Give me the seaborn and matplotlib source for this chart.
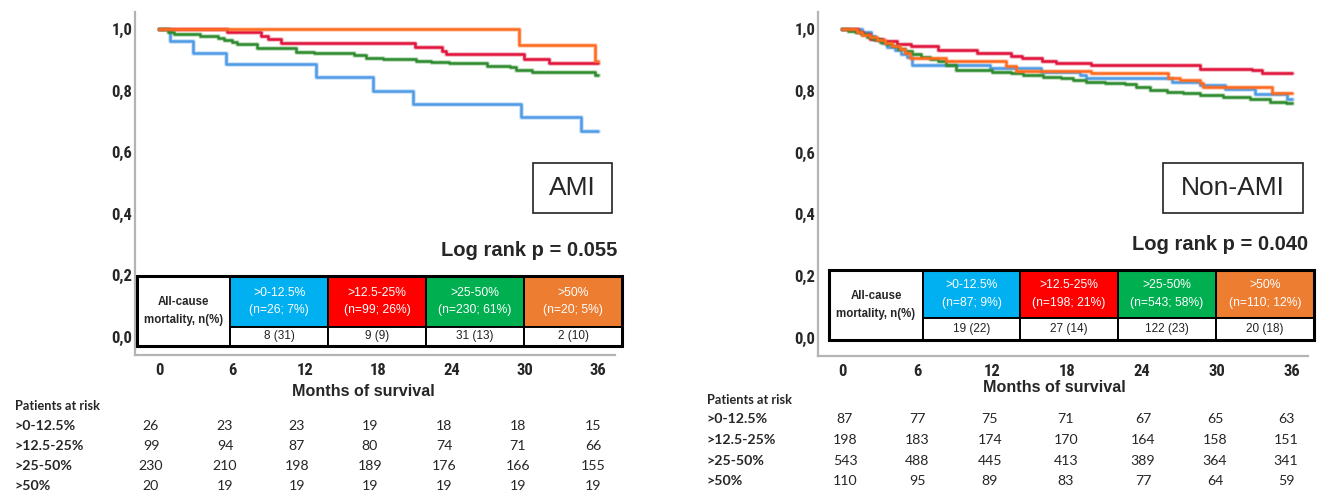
import matplotlib
matplotlib.use("Agg")
import matplotlib.pyplot as plt
import matplotlib.patheffects as pe
import pandas as pd
import seaborn as sns
from matplotlib.patches import Rectangle

W, H = 1321, 497

groups = [">0-12.5%", ">12.5-25%", ">25-50%", ">50%"]
line_colors = ["#4f9be6", "#e0143c", "#2e8b2e", "#ff6a1f"]
cell_colors = ["#00b0f0", "#ff0000", "#00b050", "#ed7d31"]
months = [0, 6, 12, 18, 24, 30, 36]
y_ticks = [0.0, 0.2, 0.4, 0.6, 0.8, 1.0]
y_labels = ["0,0", "0,2", "0,4", "0,6", "0,8", "1,0"]

# AMI survival curves (months, cumulative survival)
ami_t_blue = [0, 0.9, 2.8, 5.5, 12.9, 17.5, 20.8, 29.7, 34.6, 36]
ami_s_blue = [1.0, 0.962, 0.923, 0.885, 0.843, 0.800, 0.757, 0.713, 0.668, 0.668]
ami_t_red = [0, 5.6, 8.4, 8.9, 10.0, 21.0, 23.2, 23.5, 29.9, 32.0, 36]
ami_s_red = [1.0, 0.989, 0.978, 0.967, 0.955, 0.942, 0.930, 0.918, 0.904, 0.890, 0.890]
ami_t_green = [0, 0.7, 1.2, 3.4, 4.8, 5.3, 6.0, 6.4, 8.0, 11.2, 12.7, 16.0, 17.0,
               18.4, 21.1, 22.3, 23.8, 26.9, 28.8, 29.3, 30.6, 35.7, 36]
ami_s_green = [1.0, 0.990, 0.983, 0.978, 0.970, 0.965, 0.959, 0.951, 0.937, 0.926,
               0.921, 0.914, 0.906, 0.903, 0.897, 0.892, 0.888, 0.881, 0.876, 0.868,
               0.862, 0.850, 0.850]
ami_t_orange = [0, 29.5, 35.7, 36]
ami_s_orange = [1.0, 0.947, 0.897, 0.897]

# Non-AMI survival curves
nami_t_blue = [0, 1.6, 2.3, 2.6, 3.2, 3.6, 4.2, 4.7, 5.2, 5.6, 11.8, 15.9, 19.0,
               19.5, 26.4, 28.6, 30.6, 33.0, 35.6, 36]
nami_s_blue = [1.0, 0.989, 0.977, 0.966, 0.954, 0.943, 0.931, 0.920, 0.908, 0.885,
               0.874, 0.862, 0.851, 0.840, 0.829, 0.818, 0.807, 0.790, 0.775, 0.775]
nami_t_red = [0, 1.3, 1.7, 2.2, 3.3, 4.4, 5.5, 7.7, 10.8, 13.5, 14.4, 16.0, 17.1,
              19.9, 28.6, 32.8, 33.6, 36]
nami_s_red = [1.0, 0.992, 0.985, 0.968, 0.960, 0.953, 0.944, 0.933, 0.924, 0.914,
              0.905, 0.897, 0.891, 0.883, 0.872, 0.867, 0.859, 0.859]
nami_t_green = [0, 0.5, 1.0, 1.5, 2.0, 2.5, 3.0, 3.5, 4.0, 4.5, 5.0, 5.6, 6.3, 7.0,
                7.7, 8.3, 9.1, 10.5, 12.0, 13.5, 14.5, 16.1, 17.5, 18.5, 19.5, 21.0,
                22.6, 23.5, 24.6, 26.0, 27.3, 28.6, 30.5, 32.6, 34.2, 35.5, 36]
nami_s_green = [1.0, 0.995, 0.990, 0.983, 0.975, 0.967, 0.958, 0.951, 0.945, 0.937,
                0.928, 0.918, 0.910, 0.903, 0.896, 0.885, 0.869, 0.866, 0.862, 0.857,
                0.852, 0.846, 0.840, 0.835, 0.830, 0.826, 0.821, 0.812, 0.802, 0.797,
                0.792, 0.786, 0.781, 0.775, 0.764, 0.761, 0.761]
nami_t_orange = [0, 1.2, 1.6, 2.2, 2.8, 3.4, 4.0, 4.6, 5.0, 5.4, 8.3, 13.1, 13.9,
                 19.9, 26.1, 27.0, 28.6, 28.9, 34.4, 36]
nami_s_orange = [1.0, 0.991, 0.982, 0.973, 0.964, 0.955, 0.946, 0.936, 0.924, 0.905,
                 0.896, 0.880, 0.865, 0.857, 0.840, 0.834, 0.826, 0.813, 0.794, 0.794]

# mortality table
ami_header = ["(n=26; 7%)", "(n=99; 26%)", "(n=230; 61%)", "(n=20; 5%)"]
ami_events = ["8 (31)", "9 (9)", "31 (13)", "2 (10)"]
nami_header = ["(n=87; 9%)", "(n=198; 21%)", "(n=543; 58%)", "(n=110; 12%)"]
nami_events = ["19 (22)", "27 (14)", "122 (23)", "20 (18)"]

# patients at risk at 0, 6, ... 36 months
ami_risk_blue = [26, 23, 23, 19, 18, 18, 15]
ami_risk_red = [99, 94, 87, 80, 74, 71, 66]
ami_risk_green = [230, 210, 198, 189, 176, 166, 155]
ami_risk_orange = [20, 19, 19, 19, 19, 19, 19]
nami_risk_blue = [87, 77, 75, 71, 67, 65, 63]
nami_risk_red = [198, 183, 174, 170, 164, 158, 151]
nami_risk_green = [543, 488, 445, 413, 389, 364, 341]
nami_risk_orange = [110, 95, 89, 83, 77, 64, 59]

sns.set_style("white")
plt.rcParams["font.family"] = ["Liberation Sans", "DejaVu Sans"]
tick_font = ["Roboto Condensed", "Liberation Sans Narrow", "Liberation Sans"]
risk_font = ["Lato", "DejaVu Sans"]

fig = plt.figure(figsize=(W / 100, H / 100), dpi=100)


def fx(x):
    return x / W


def fy(y):
    return 1 - y / H


def curves_frame(ts, ss):
    parts = []
    for g, t, s in zip(groups, ts, ss):
        parts.append(pd.DataFrame({"month": t, "survival": s, "group": g}))
    return pd.concat(parts, ignore_index=True)


def draw_panel(rect, x0px, pxm, df):
    ax = fig.add_axes([fx(rect[0]), fy(rect[3]), (rect[2] - rect[0]) / W,
                       (rect[3] - rect[1]) / H])
    sns.lineplot(data=df, x="month", y="survival", hue="group",
                 palette=dict(zip(groups, line_colors)), hue_order=groups,
                 drawstyle="steps-post", estimator=None, legend=False,
                 linewidth=1.8, ax=ax)
    for ln in ax.lines:
        ln.set_path_effects([pe.Stroke(linewidth=3.6, foreground=ln.get_color(), alpha=0.25),
                             pe.Normal()])
    ax.set_xlim((rect[0] - x0px) / pxm, (rect[2] - x0px) / pxm)
    ax.set_ylim(-18 / 308, 1 + 17 / 308)
    ax.set_xticks(months)
    ax.set_xticklabels([str(m) for m in months])
    ax.set_yticks(y_ticks)
    ax.set_yticklabels(y_labels)
    ax.set_xlabel("")
    ax.set_ylabel("")
    ax.tick_params(length=0, labelsize=12)
    ax.tick_params(axis="x", pad=6)
    ax.tick_params(axis="y", pad=2)
    for lab in ax.get_xticklabels() + ax.get_yticklabels():
        lab.set_family(tick_font)
        lab.set_fontweight("bold")
    sns.despine(ax=ax)
    for side in ["left", "bottom"]:
        ax.spines[side].set_color("#b4b4b4")
        ax.spines[side].set_linewidth(1.6)
    return ax


def draw_table(xs, ytop, ymid, ybot, header, events):
    def box(x0, y0, x1, y1, fc, lw=1.4):
        fig.add_artist(Rectangle((fx(x0), fy(y1)), (x1 - x0) / W, (y1 - y0) / H,
                                 transform=fig.transFigure, facecolor=fc,
                                 edgecolor="black", linewidth=lw))
    box(xs[0], ytop, xs[1], ybot, "white")
    yc = (ytop + ybot) / 2
    fig.text(fx((xs[0] + xs[1]) / 2), fy(yc - 9), "All-cause", ha="center",
             va="center", fontsize=8.3, fontweight="bold")
    fig.text(fx((xs[0] + xs[1]) / 2), fy(yc + 9), "mortality, n(%)", ha="center",
             va="center", fontsize=8.3, fontweight="bold")
    for i in range(4):
        box(xs[i + 1], ytop, xs[i + 2], ymid, cell_colors[i])
        box(xs[i + 1], ymid, xs[i + 2], ybot, "white")
        xc = (xs[i + 1] + xs[i + 2]) / 2
        hc = (ytop + ymid) / 2
        fig.text(fx(xc), fy(hc - 9), groups[i], ha="center", va="center",
                 fontsize=8.7, color="white")
        fig.text(fx(xc), fy(hc + 9), header[i], ha="center", va="center",
                 fontsize=8.7, color="white")
        fig.text(fx(xc), fy((ymid + ybot) / 2), events[i], ha="center",
                 va="center", fontsize=8.5, color="#222222")
    fig.add_artist(Rectangle((fx(xs[0]), fy(ybot)), (xs[-1] - xs[0]) / W,
                             (ybot - ytop) / H, transform=fig.transFigure,
                             facecolor="none", edgecolor="black", linewidth=2.2))


def draw_risk(xl, xcols, ys, rows):
    fig.text(fx(xl), fy(ys[0]), "Patients at risk", ha="left", va="center",
             fontsize=9.2, fontweight="bold", family=risk_font)
    for g, y, vals in zip(groups, ys[1:], rows):
        fig.text(fx(xl), fy(y), g, ha="left", va="center", fontsize=10.2,
                 fontweight="bold", family=risk_font)
        for x, v in zip(xcols, vals):
            fig.text(fx(x), fy(y), str(v), ha="center", va="center",
                     fontsize=10.2, family=risk_font)


def label_box(x0, y0, x1, y1, text):
    fig.add_artist(Rectangle((fx(x0), fy(y1)), (x1 - x0) / W, (y1 - y0) / H,
                             transform=fig.transFigure, facecolor="white",
                             edgecolor="#222222", linewidth=1.2))
    fig.text(fx((x0 + x1) / 2), fy((y0 + y1) / 2), text, ha="center",
             va="center", fontsize=19)


# left panel: AMI
df_ami = curves_frame([ami_t_blue, ami_t_red, ami_t_green, ami_t_orange],
                      [ami_s_blue, ami_s_red, ami_s_green, ami_s_orange])
draw_panel((135, 12, 615, 355), 159, 12.2, df_ami)
label_box(533, 163, 612, 213, "AMI")
fig.text(fx(617), fy(250), "Log rank p = 0.055", ha="right", va="center",
         fontsize=14.5, fontweight="bold")
draw_table([137, 230, 328, 426, 524, 622], 276, 327, 346, ami_header, ami_events)
fig.text(fx(363), fy(391), "Months of survival", ha="center", va="center",
         fontsize=11.6, fontweight="bold")
draw_risk(15, [151, 225, 297, 370, 444, 518, 593], [406, 426, 446, 466, 486],
          [ami_risk_blue, ami_risk_red, ami_risk_green, ami_risk_orange])

# right panel: Non-AMI
df_nami = curves_frame([nami_t_blue, nami_t_red, nami_t_green, nami_t_orange],
                       [nami_s_blue, nami_s_red, nami_s_green, nami_s_orange])
draw_panel((818, 12, 1308, 356), 842, 12.5, df_nami)
label_box(1163, 163, 1303, 213, "Non-AMI")
fig.text(fx(1308), fy(244), "Log rank p = 0.040", ha="right", va="center",
         fontsize=14.5, fontweight="bold")
draw_table([829, 923, 1020, 1118, 1216, 1314], 270, 318, 340, nami_header, nami_events)
fig.text(fx(1054), fy(388), "Months of survival", ha="center", va="center",
         fontsize=11.6, fontweight="bold")
draw_risk(707, [845, 917, 990, 1066, 1143, 1215, 1286], [400, 419, 440, 461, 481],
          [nami_risk_blue, nami_risk_red, nami_risk_green, nami_risk_orange])

fig.savefig("out.png", dpi=100)
